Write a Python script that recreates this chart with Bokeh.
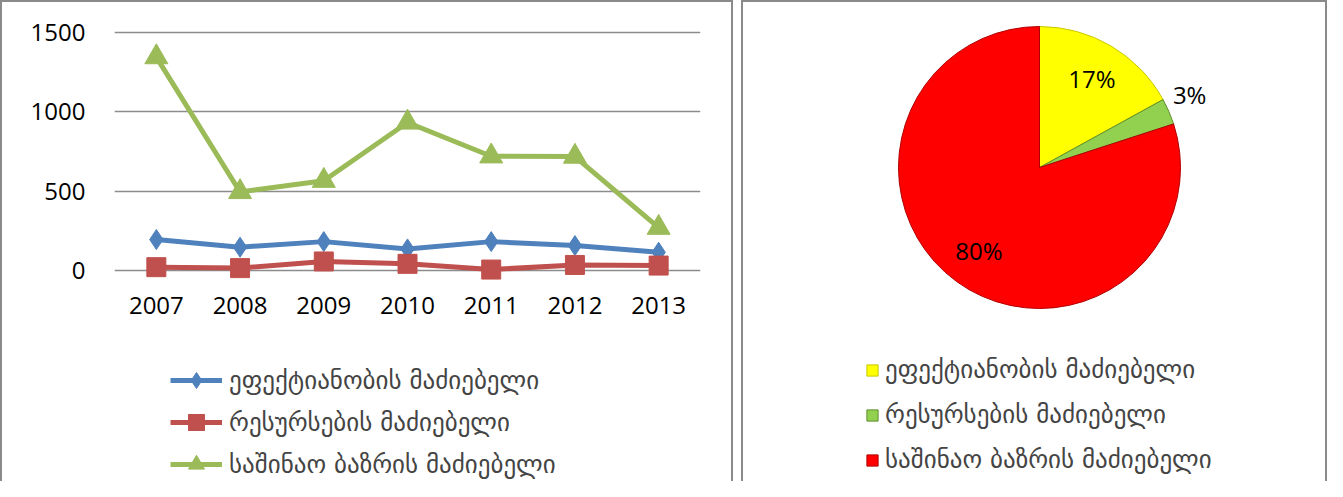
import math
from bokeh.plotting import figure
from bokeh.models import (ColumnDataSource, FactorRange, Range1d, FixedTicker,
                          Legend, LegendItem)
from bokeh.layouts import row
from bokeh.embed import file_html
from bokeh.resources import INLINE
from bokeh.core.properties import value

# ---------------- data ----------------
years = ["2007", "2008", "2009", "2010", "2011", "2012", "2013"]
series_names = ["ეფექტიანობის მაძიებელი",
                "რესურსების მაძიებელი",
                "საშინაო ბაზრის მაძიებელი"]
efficiency = [195, 147, 182, 136, 182, 157, 115]
resource = [21, 15, 57, 42, 6, 35, 31]
market = [1345, 495, 566, 933, 720, 718, 270]
y_ticks = [0, 500, 1000, 1500]

pie_percent = [17, 3, 80]
pie_labels = ["17%", "3%", "80%"]

# ---------------- styles ----------------
line_colors = ["#4F81BD", "#C0504D", "#9BBB59"]
pie_colors = ["#FFFF00", "#92D050", "#FF0000"]
pie_edges = ["#C8C800", "#5E8E2A", "#B00000"]
NUM_FONT = "Open Sans"
GEO_FONT = "DejaVu Sans"
BORDER = {"box-shadow": "inset 2px 2px 0 #8A8A8A, inset -2px 0 0 #8A8A8A"}

H = 481                      # figure height
# left chart geometry (pixels inside the figure)
L_W, L_LEFT, L_RIGHT = 733, 114, 33
TOP_1500, ZERO_Y = 32, 270   # pixel rows of 1500 and 0 from top of figure
k = (ZERO_Y - TOP_1500) / 1500.0
y_end = 1500 + TOP_1500 / k
y_start = -(H - ZERO_Y) / k

# ---------------- line chart ----------------
src = ColumnDataSource(dict(year=years, eff=efficiency, res=resource, mkt=market))

p1 = figure(width=L_W, height=H, x_range=FactorRange(*years),
            y_range=Range1d(y_start, y_end), output_backend="svg",
            toolbar_location=None, min_border_left=L_LEFT, min_border_right=L_RIGHT,
            min_border_top=0, min_border_bottom=0, styles=BORDER)
p1.background_fill_color = None
p1.border_fill_color = None
p1.outline_line_color = None
p1.xgrid.visible = False
p1.ygrid.grid_line_color = "#8C8C8C"
p1.ygrid.grid_line_width = 1.5
p1.yaxis.ticker = FixedTicker(ticks=y_ticks)
p1.xaxis.fixed_location = 0
for ax in (p1.xaxis, p1.yaxis):
    ax.axis_line_color = None
    ax.major_tick_line_color = None
    ax.minor_tick_line_color = None
    ax.major_label_text_font = NUM_FONT
    ax.major_label_text_font_size = "24px"
    ax.major_label_text_color = "#000000"
p1.yaxis.major_label_standoff = 23
p1.xaxis.major_label_standoff = 20

renderers = []
for col, color, marker, size in (("eff", line_colors[0], "diamond", 20),
                                 ("res", line_colors[1], "square", 19),
                                 ("mkt", line_colors[2], "triangle", 23)):
    rl = p1.line(x="year", y=col, source=src, line_color=color, line_width=5)
    rm = p1.scatter(x="year", y=col, source=src, marker=marker, size=size,
                    fill_color=color, line_color=color)
    renderers.append([rl, rm])

leg1 = Legend(items=[LegendItem(label=series_names[i], renderers=renderers[i])
                     for i in range(3)],
              location=(56, -3), glyph_width=52, glyph_height=40,
              label_height=40, spacing=2, padding=0, margin=0,
              border_line_color=None, background_fill_alpha=0,
              label_text_font=GEO_FONT, label_text_font_size="25px",
              label_standoff=7)
p1.add_layout(leg1, "center")

# ---------------- pie chart ----------------
total = sum(pie_percent)
starts, ends, mids = [], [], []
acc = 0.0
for v in pie_percent:
    a0 = math.pi / 2 - 2 * math.pi * acc / total
    acc += v
    a1 = math.pi / 2 - 2 * math.pi * acc / total
    starts.append(a0)
    ends.append(a1)
    mids.append((a0 + a1) / 2)

R = 141
label_r = [0.73 * R, 1.184 * R, 0.73 * R]
label_turn = [0.0, math.radians(2.5), 0.0]
psrc = ColumnDataSource(dict(start=starts, end=ends, color=pie_colors, edge=pie_edges,
                             name=series_names))
lsrc = ColumnDataSource(dict(
    x=[label_r[i] * math.cos(mids[i] + label_turn[i]) for i in range(3)],
    y=[label_r[i] * math.sin(mids[i] + label_turn[i]) for i in range(3)],
    text=pie_labels))

R_W = 586
CX, CY = 298, 167            # pie centre in pixels from the figure's top-left
p2 = figure(width=R_W, height=H, x_range=Range1d(-CX, R_W - CX),
            y_range=Range1d(-(H - CY), CY),
            output_backend="svg", toolbar_location=None, min_border=0, styles=BORDER)
p2.background_fill_color = None
p2.border_fill_color = None
p2.axis.visible = False
p2.grid.visible = False
p2.outline_line_color = None

wedges = p2.wedge(x=0, y=0, radius=R, radius_units="screen", start_angle="start",
                  end_angle="end", direction="clock", fill_color="color",
                  line_color="edge", line_width=1, source=psrc)
p2.text(x="x", y="y", text="text", source=lsrc, text_align="center",
        text_baseline="middle", text_font=value(NUM_FONT), text_font_size="24px",
        text_color="#000000")

leg2 = Legend(items=[LegendItem(label=series_names[i], renderers=[wedges], index=i)
                     for i in range(3)],
              location=(124, 7), glyph_width=14, glyph_height=14,
              label_height=29, spacing=16, padding=0, margin=0,
              border_line_color=None, background_fill_alpha=0,
              label_text_font=GEO_FONT, label_text_font_size="25px",
              label_standoff=6)
p2.add_layout(leg2, "center")

layout = row(p1, p2, spacing=8)
open("out.html", "w").write(file_html(layout, INLINE))
